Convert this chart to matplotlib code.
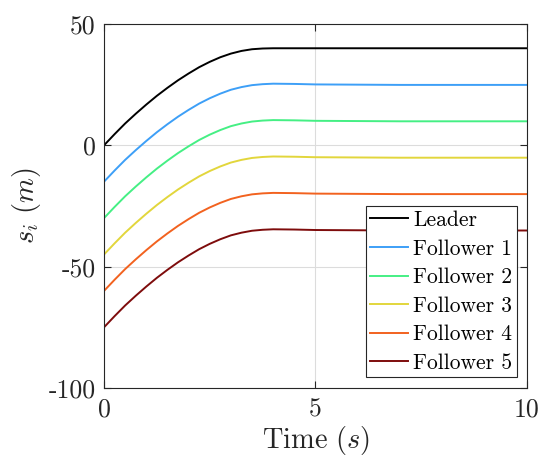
import matplotlib
matplotlib.use("Agg")
import matplotlib.pyplot as plt

plt.rcParams["mathtext.fontset"] = "cm"
plt.rcParams["axes.formatter.use_mathtext"] = True

# Time samples (s)
t = [0, 0.25, 0.5, 0.75, 1, 1.25, 1.5, 1.75, 2, 2.25, 2.5, 2.75, 3, 3.25,
     3.5, 3.75, 4, 4.5, 5, 6, 7, 8, 9, 10]

# Positions s_i (m)
leader = [0, 4.6, 9.0, 13.0, 16.8, 20.4, 23.7, 26.8, 29.6, 32.2, 34.4, 36.3,
          37.8, 38.9, 39.6, 39.9, 40.0, 40.0, 40.0, 40.0, 40.0, 40.0, 40.0, 40.0]
follower1 = [-15, -10.4, -6.0, -2.0, 1.8, 5.4, 8.7, 11.8, 14.6, 17.2, 19.4, 21.3,
             22.9, 24.0, 24.8, 25.2, 25.4, 25.3, 25.1, 25.0, 24.9, 24.9, 24.9, 24.9]
follower2 = [-30, -25.4, -21.0, -17.0, -13.2, -9.6, -6.3, -3.2, -0.4, 2.2, 4.4, 6.3,
             7.9, 9.0, 9.8, 10.2, 10.4, 10.3, 10.1, 10.0, 9.9, 9.9, 9.9, 9.9]
follower3 = [-45, -40.4, -36.0, -32.0, -28.2, -24.6, -21.3, -18.2, -15.4, -12.8, -10.6, -8.7,
             -7.1, -6.0, -5.2, -4.8, -4.6, -4.7, -4.9, -5.0, -5.1, -5.1, -5.1, -5.1]
follower4 = [-60, -55.4, -51.0, -47.0, -43.2, -39.6, -36.3, -33.2, -30.4, -27.8, -25.6, -23.7,
             -22.1, -21.0, -20.2, -19.8, -19.6, -19.7, -19.9, -20.0, -20.1, -20.1, -20.1, -20.1]
follower5 = [-75, -70.4, -66.0, -62.0, -58.2, -54.6, -51.3, -48.2, -45.4, -42.8, -40.6, -38.7,
             -37.1, -36.0, -35.2, -34.8, -34.6, -34.7, -34.9, -35.0, -35.1, -35.1, -35.1, -35.1]

series = [leader, follower1, follower2, follower3, follower4, follower5]
names = ["Leader", "Follower 1", "Follower 2", "Follower 3", "Follower 4", "Follower 5"]
colors = ["#000000", "#3d9ff7", "#45ef84", "#e2d63c", "#f2621f", "#7e0c0c"]

xticks = [0, 5, 10]
xticklabels = ["0", "5", "10"]
yticks = [-100, -50, 0, 50]
yticklabels = ["-100", "-50", "0", "50"]

fig = plt.figure(figsize=(5.38, 4.57), dpi=100)
ax = fig.add_axes([0.1933, 0.151, 0.7862, 0.7965])

for s, name, c in zip(series, names, colors):
    ax.plot(t, s, color=c, lw=1.4, label=name)

ax.set_xlim(0, 10)
ax.set_ylim(-100, 50)
ax.set_xticks(xticks)
ax.set_xticklabels(xticklabels, fontfamily="cmr10", fontsize=18.5)
ax.set_yticks(yticks)
ax.set_yticklabels(yticklabels, fontfamily="cmr10", fontsize=18.5)
ax.tick_params(direction="in", length=5, width=0.8, color="#262626",
               top=True, right=True, labelcolor="#262626")
ax.tick_params(axis="x", pad=7)
ax.tick_params(axis="y", pad=6)
ax.grid(True, color="#dcdcdc", lw=0.8)
ax.set_axisbelow(True)
for sp in ax.spines.values():
    sp.set_color("#262626")
    sp.set_linewidth(0.8)

ax.set_xlabel(r"$\mathrm{Time}\ (s)$", fontsize=20.5, color="#262626", labelpad=2)
ax.set_ylabel(r"$s_i\ (m)$", fontsize=20.5, color="#262626", labelpad=4)

leg = ax.legend(loc="lower right", bbox_to_anchor=(0.976, 0.03),
                prop={"family": "cmr10", "size": 15.5}, frameon=True, fancybox=False,
                edgecolor="#262626", framealpha=1, borderpad=0.2, labelspacing=0.42,
                handlelength=1.75, handletextpad=0.25, borderaxespad=0)
leg.get_frame().set_linewidth(0.8)

fig.savefig("out.png", dpi=100)
